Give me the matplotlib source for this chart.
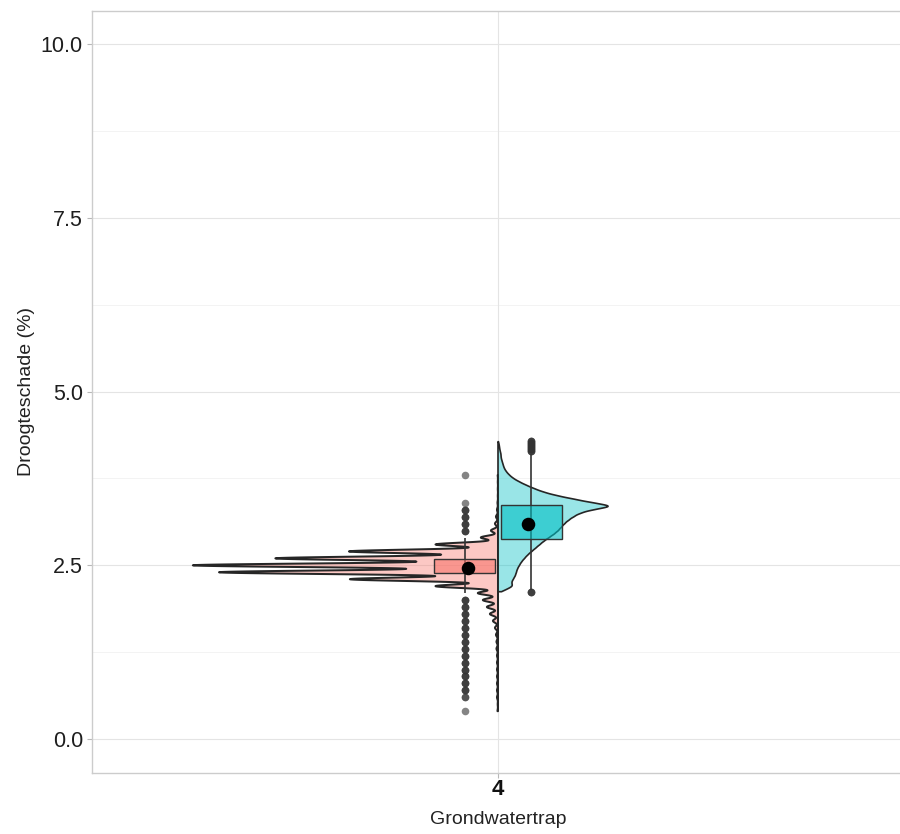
import numpy as np
import matplotlib
matplotlib.use("Agg")
import matplotlib.pyplot as plt
from matplotlib.colors import to_rgba

plt.rcParams["font.family"] = ["Liberation Sans", "DejaVu Sans"]

# ---- data -------------------------------------------------------------
category_label = "4"
group_colors = ["#F8766D", "#00BFC4"]

# group 1: values recorded at 0.1 resolution, counts per level
g1_levels = np.round(np.arange(0.4, 3.81, 0.1), 2)
g1_counts = np.array([
    0.5, 0.3, 1, 1, 1, 1, 1, 1, 1, 1.5,      # 0.4 - 1.3
    1.5, 2, 3, 5, 8, 11, 15, 20, 62, 147,     # 1.4 - 2.3
    277, 303, 221, 148, 62, 17, 7, 3, 2, 1,   # 2.4 - 3.3
    0.5, 0.2, 0.2, 0.2, 0.3,                  # 3.4 - 3.8
])

# group 2: finer-resolution values, counts per 0.05 level
g2_levels = np.round(np.arange(2.15, 4.251, 0.05), 2)
g2_counts = np.array([
    8, 15, 13, 15, 17, 18, 19, 21, 23, 26,    # 2.15 - 2.60
    29, 33, 37, 41, 45, 50, 55, 59, 62, 65,   # 2.65 - 3.10
    69, 74, 80, 92, 115, 92, 75, 58, 45, 36,  # 3.15 - 3.60
    28, 21, 15, 11, 8, 6, 5, 4, 3, 3,         # 3.65 - 4.10
    2, 1.5, 1,                                # 4.15 - 4.25
])
g1_range = (0.4, 3.8)
g2_range = (2.12, 4.28)

# boxplot summaries: q1, q3, lower whisker, upper whisker, mean
box_q1 = [2.39, 2.88]
box_q3 = [2.59, 3.37]
whisker_lo = [2.10, 2.15]
whisker_hi = [2.90, 4.10]
group_mean = [2.46, 3.10]

# outliers (value, number of coinciding points)
g1_outliers = [0.4, 0.6, 0.7, 0.8, 0.9, 1.0, 1.1, 1.2, 1.3, 1.4, 1.5, 1.6,
               1.7, 1.8, 1.9, 2.0, 3.0, 3.1, 3.2, 3.3, 3.4, 3.8]
g1_outlier_n = [1, 2, 3, 3, 3, 3, 3, 3, 3, 3, 3, 3,
                3, 3, 3, 3, 3, 3, 3, 3, 1, 1]
g2_outliers = [2.12, 4.14, 4.17, 4.20, 4.23, 4.26, 4.29]
g2_outlier_n = [3, 3, 3, 3, 3, 3, 3]

# ---- helpers ------------------------------------------------------------
def kde(levels, counts, grid, bw):
    d = np.zeros_like(grid)
    for v, c in zip(levels, counts):
        d += c * np.exp(-0.5 * ((grid - v) / bw) ** 2)
    return d

fig = plt.figure(figsize=(9.0, 8.34), dpi=100)
ax = fig.add_axes([92 / 900, 61 / 834, 812 / 900, 762 / 834])

xc = 1.0
ax.set_xlim(0.4, 1.6)
ax.set_ylim(-0.49, 10.48)

# grid
for y in [1.25, 3.75, 6.25, 8.75]:
    ax.axhline(y, color="#f1f1f1", lw=0.6, zorder=0)
for y in [0, 2.5, 5, 7.5, 10]:
    ax.axhline(y, color="#e4e4e4", lw=0.8, zorder=0)
ax.axvline(xc, color="#e4e4e4", lw=0.8, zorder=0)

edge = "#262626"

# half violins (flat side on the category line)
y1 = np.linspace(*g1_range, 3000)
d1 = kde(g1_levels, g1_counts, y1, 0.026)
w1 = d1 / d1.max() * 0.451
ax.fill(np.r_[xc - w1, xc, xc], np.r_[y1, y1[-1], y1[0]],
        facecolor=to_rgba(group_colors[0], 0.4), edgecolor=edge,
        lw=1.45, zorder=2, joinstyle="round")

y2 = np.linspace(*g2_range, 2000)
d2 = kde(g2_levels, g2_counts, y2, 0.03)
w2 = d2 / d2.max() * 0.1626
ax.fill(np.r_[xc + w2, xc, xc], np.r_[y2, y2[-1], y2[0]],
        facecolor=to_rgba(group_colors[1], 0.4), edgecolor=edge,
        lw=1.2, zorder=2, joinstyle="round")

# boxplots, outliers and means
offsets = [-0.0495, 0.0495]
mean_offsets = [-0.0443, 0.0443]
box_w = 0.090
outliers = [(g1_outliers, g1_outlier_n), (g2_outliers, g2_outlier_n)]
for i in range(2):
    bx = xc + offsets[i]
    ax.plot([bx, bx], [whisker_lo[i], whisker_hi[i]], color="#333333",
            lw=1.2, zorder=3, solid_capstyle="butt")
    ax.add_patch(plt.Rectangle((bx - box_w / 2, box_q1[i]), box_w,
                               box_q3[i] - box_q1[i],
                               facecolor=to_rgba(group_colors[i], 0.6),
                               edgecolor="#333333", lw=1.0, zorder=4))
    vals, ns = outliers[i]
    for v, n in zip(vals, ns):
        for _ in range(n):
            ax.scatter([bx], [v], s=30, color="#333333", alpha=0.6,
                       linewidths=0, zorder=5)
    ax.scatter([xc + mean_offsets[i]], [group_mean[i]], s=95, color="black",
               linewidths=0, zorder=6)

# axes styling
ax.set_xticks([xc])
ax.set_xticklabels([category_label], fontsize=16, fontweight="bold",
                   color="#111111")
ax.set_yticks([0, 2.5, 5, 7.5, 10])
ax.set_yticklabels(["0.0", "2.5", "5.0", "7.5", "10.0"], fontsize=15.5,
                   color="#1e1e1e")
ax.tick_params(axis="y", length=3.5, width=0.8, color="#b8b8b8", pad=3)
ax.tick_params(axis="x", length=3.5, width=0.8, color="#b8b8b8", pad=1)
ax.set_xlabel("Grondwatertrap", fontsize=14, color="#222222", labelpad=8)
ax.set_ylabel("Droogteschade (%)", fontsize=14, color="#222222", labelpad=4)
for s in ax.spines.values():
    s.set_color("#cccccc")
    s.set_linewidth(1.0)

fig.savefig("out.png", dpi=100)
